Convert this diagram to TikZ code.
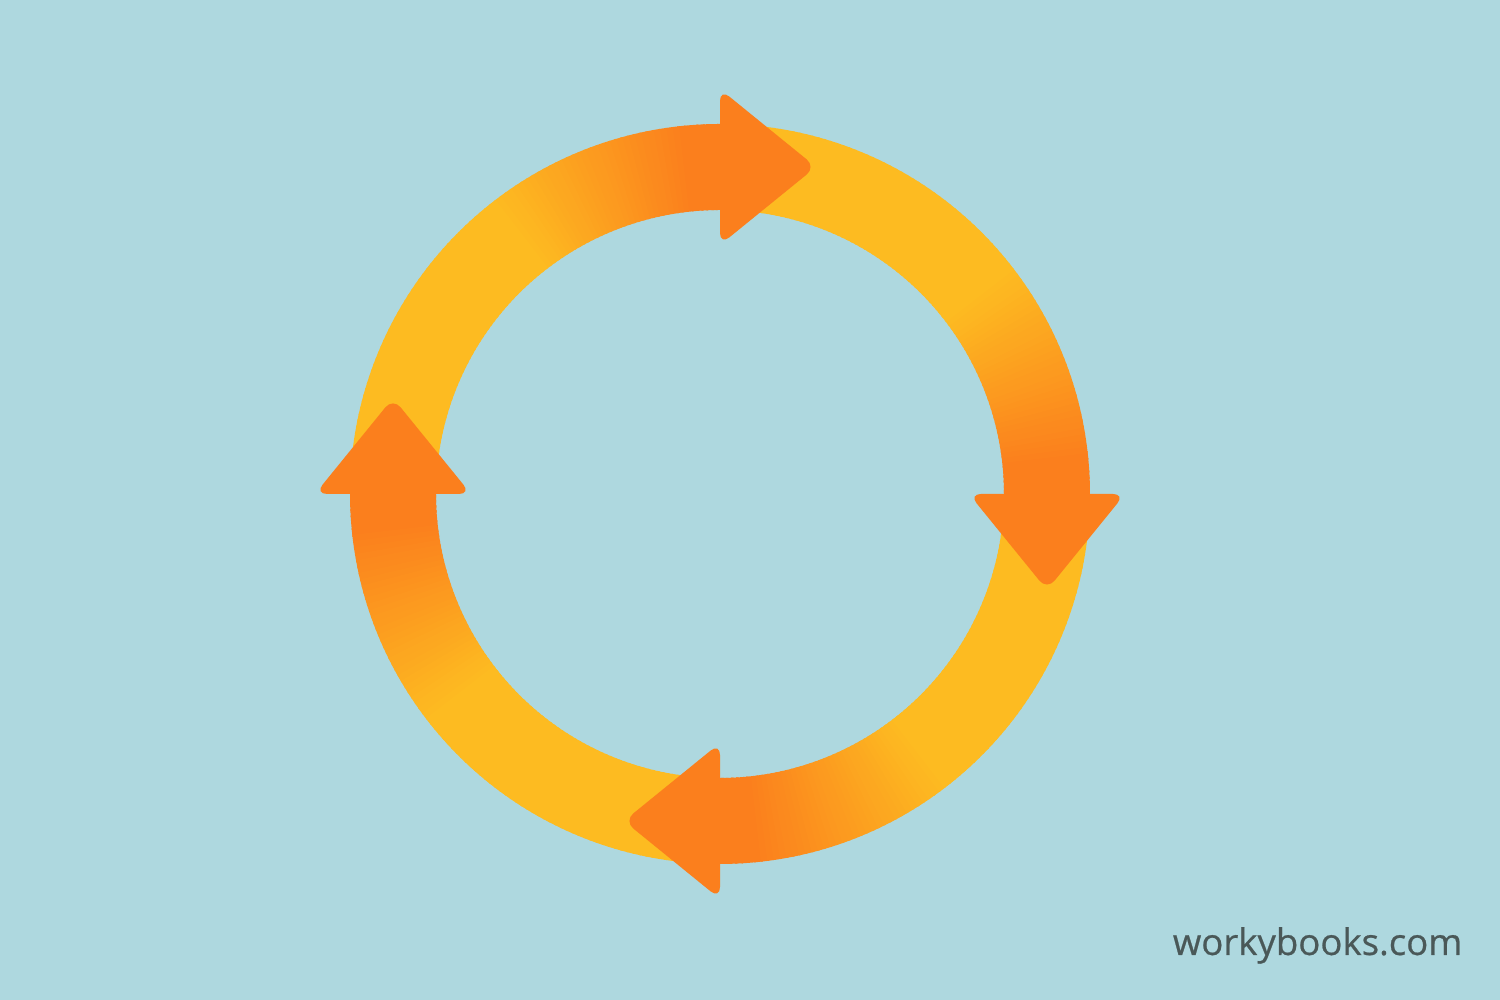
\documentclass[tikz,border=0pt]{standalone}
\usepackage{fontspec}
\newfontfamily\brandfont[FakeBold=0.6]{Open Sans}
\definecolor{cbsky}{HTML}{AED8DF}
\definecolor{cbyellow}{HTML}{FDBB21}
\definecolor{cborange}{HTML}{FB7F1D}
\definecolor{cbtext}{HTML}{4A5858}

\tikzset{
  ring/.style={line width=0.86cm},
  head/.style={fill=cborange, rounded corners=0.12cm}
}

\begin{document}
\begin{tikzpicture}
\useasboundingbox (0,0) rectangle (15,10);
\fill[cbsky] (0,0) rectangle (15,10);

\begin{scope}[shift={(7.2,5.06)}]
\def\rmid{3.27}

\foreach \a in {0,...,359} {
  \pgfmathsetmacro{\d}{mod(\a,90)}
  \pgfmathtruncatemacro{\p}{max(0,min(100,(38-\d)/32*100))}
  \draw[ring, cborange!\p!cbyellow] (\a+0.7:\rmid) arc (\a+0.7:\a-0.7:\rmid);
}

\foreach \t in {90,0,-90,180} {
  \fill[head] (\t:{\rmid-0.78}) -- (\t:{\rmid+0.78})
    -- ([shift={(\t-90:0.96)}]\t:\rmid) -- cycle;
}
\end{scope}

\node[anchor=base east, inner sep=0pt, text=cbtext, font=\brandfont\fontsize{10.4}{12}\selectfont] (brand) at (14.63,0.45) {workybooks.com};

\end{tikzpicture}
\end{document}
